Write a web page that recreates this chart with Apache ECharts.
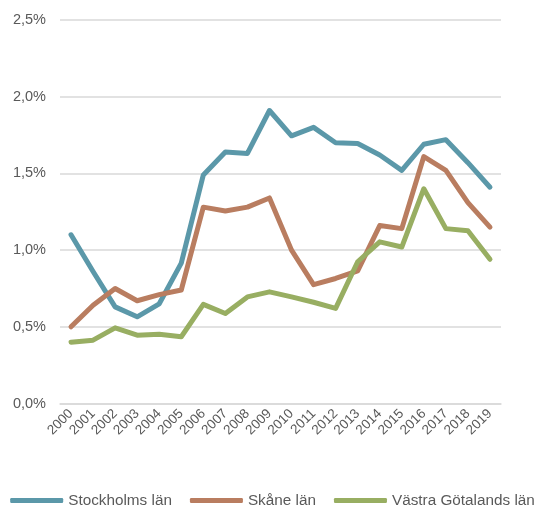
<!DOCTYPE html>
<html><head><meta charset="utf-8">
<script src="https://cdn.jsdelivr.net/npm/echarts@6/dist/echarts.min.js"></script>
<style>html,body{margin:0;padding:0;background:#fff}#c{width:545px;height:507px}</style>
</head><body><div id="c"></div>
<script>
const years = ['2000','2001','2002','2003','2004','2005','2006','2007','2008','2009','2010','2011','2012','2013','2014','2015','2016','2017','2018','2019'];
const stockholm = [1.10,0.86,0.63,0.565,0.65,0.915,1.49,1.64,1.63,1.91,1.745,1.80,1.70,1.695,1.62,1.52,1.69,1.72,1.57,1.41];
const skane = [0.50,0.64,0.75,0.67,0.71,0.74,1.28,1.255,1.28,1.34,1.00,0.775,0.815,0.865,1.16,1.14,1.61,1.52,1.31,1.15];
const vastra = [0.40,0.413,0.493,0.445,0.452,0.435,0.646,0.587,0.695,0.728,0.695,0.66,0.62,0.924,1.054,1.02,1.40,1.14,1.126,0.94];
const names = ['Stockholms län','Skåne län','Västra Götalands län'];
const colors = ['#5b98a9','#b97d60','#98ae62'];
const chart = echarts.init(document.getElementById('c'));
const mk = (n, d, c) => ({name:n, type:'line', data:d, symbol:'none', lineStyle:{width:5, color:c, cap:'round', join:'round'}, itemStyle:{color:c}});
chart.setOption({
  animation:false,
  textStyle:{fontFamily:'Liberation Sans, Arial, sans-serif'},
  grid:{left:60, right:44, top:20, bottom:103.5, containLabel:false},
  legend:{top:488, left:'center', icon:'roundRect', itemWidth:53, itemHeight:5, itemGap:18,
    textStyle:{color:'#595959', fontSize:15.3}, data:names},
  xAxis:{type:'category', data:years, boundaryGap:true,
    axisLine:{show:true, lineStyle:{color:'#d9d9d9', width:1.5}}, axisTick:{show:false},
    axisLabel:{rotate:45, color:'#595959', fontSize:13.5, margin:8, interval:0}},
  yAxis:{type:'value', min:0, max:2.5, interval:0.5,
    axisLine:{show:false}, axisTick:{show:false},
    splitLine:{lineStyle:{color:'#d9d9d9', width:1.5}},
    axisLabel:{color:'#595959', fontSize:14.5, margin:14,
      formatter:v => v.toFixed(1).replace('.', ',') + '%'}},
  series:[mk(names[0], stockholm, colors[0]), mk(names[1], skane, colors[1]), mk(names[2], vastra, colors[2])]
});
</script></body></html>
